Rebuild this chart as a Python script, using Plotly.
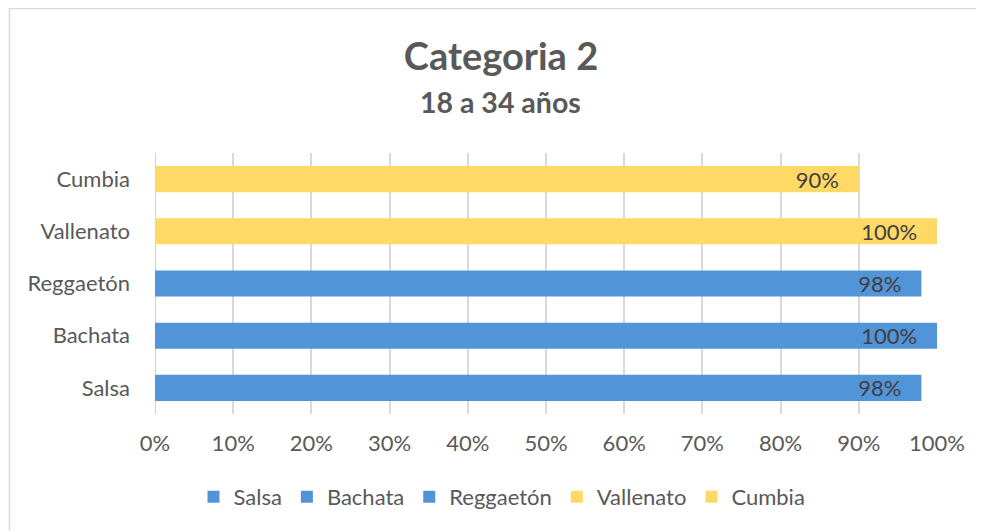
import plotly.graph_objects as go

categories = ["Salsa", "Bachata", "Reggaetón", "Vallenato", "Cumbia"]
values = [0.98, 1.00, 0.98, 1.00, 0.90]
colors = ["#5294D8", "#5294D8", "#5294D8", "#FFD966", "#FFD966"]
tick_vals = [0, 0.1, 0.2, 0.3, 0.4, 0.5, 0.6, 0.7, 0.8, 0.9, 1.0]
tick_text = ["0%", "10%", "20%", "30%", "40%", "50%", "60%", "70%", "80%", "90%", "100%"]
title_text = "Categoria 2"
subtitle_text = "18 a 34 años"

FONT = "Lato, Carlito, Calibri, sans-serif"
GRAY = "#595959"

W, H = 976, 523
ml, mr, mt, mb = 147, 47, 145, 117
pw = W - ml - mr
ph = H - mt - mb

fig = go.Figure()
for cat, val, col in zip(categories, values, colors):
    fig.add_trace(go.Bar(
        name=cat,
        y=[cat],
        x=[val],
        orientation="h",
        width=0.5,
        marker=dict(color=col, line=dict(width=0)),
        text=[f"{round(val*100)}%" + "\u00a0" * 3],
        textposition="inside",
        insidetextanchor="end",
        constraintext="none",
        textfont=dict(family=FONT, size=22, color="#404040"),
        cliponaxis=False,
    ))

fig.add_shape(type="rect", xref="paper", yref="paper",
              x0=(1.5 - ml) / pw, x1=(W + 30 - ml) / pw,
              y0=-(H + 30 - mt - ph) / ph, y1=1 + (mt - 0.5) / ph,
              line=dict(color="#D9D9D9", width=1.5), layer="below")

fig.add_annotation(
    text=f"<b>{subtitle_text}</b>", xref="paper", yref="paper",
    x=(492.5 - ml) / pw, y=1 + (mt - 94) / ph, xanchor="center", yanchor="middle",
    showarrow=False, font=dict(family=FONT, size=28.5, color=GRAY),
)

fig.update_layout(
    width=W, height=H,
    margin=dict(l=ml, r=mr, t=mt, b=mb, pad=0),
    paper_bgcolor="white", plot_bgcolor="white",
    barmode="overlay",
    showlegend=True,
    title=dict(
        text=title_text,
        x=493 / W, xanchor="center", xref="container",
        y=1 - 49 / H, yanchor="middle", yref="container",
        font=dict(family=FONT, size=38, color=GRAY, weight="bold"),
    ),
    xaxis=dict(
        range=[0, 1.0], tickvals=tick_vals, ticktext=tick_text,
        showgrid=True, gridcolor="#D9D9D9", gridwidth=1.5,
        zeroline=False, showline=False, ticks="",
        tickfont=dict(family=FONT, size=22, color=GRAY),
        ticklabelstandoff=14,
    ),
    yaxis=dict(
        categoryorder="array", categoryarray=categories,
        showgrid=False, zeroline=False,
        showline=False, ticks="",
        tickfont=dict(family=FONT, size=22, color=GRAY),
        ticklabelstandoff=24,
    ),
    legend=dict(
        orientation="h", x=(494 - ml) / pw, xanchor="center",
        y=(ph - (489 - mt)) / ph, yanchor="middle",
        font=dict(family=FONT, size=22, color=GRAY),
        itemwidth=30, traceorder="normal",
    ),
)
fig.add_vline(x=0, line=dict(color="#D0D0D0", width=2), layer="below")

fig.write_html("out.html")
